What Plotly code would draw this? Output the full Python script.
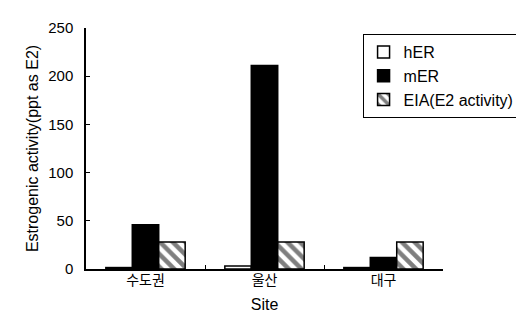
import plotly.graph_objects as go

sites = ["수도권", "울산", "대구"]
her = [1.5, 3, 1.5]
mer = [46, 211, 12]
eia = [28, 28, 28]

FONT = "Liberation Sans, Arial, Noto Sans CJK KR, sans-serif"

fig = go.Figure()
fig.add_trace(go.Bar(name="hER", x=sites, y=her, marker=dict(color="white", line=dict(color="black", width=1.5))))
fig.add_trace(go.Bar(name="mER", x=sites, y=mer, marker=dict(color="black", line=dict(color="black", width=1.5))))
fig.add_trace(go.Bar(name="EIA(E2 activity)", x=sites, y=eia,
                     marker=dict(color="white", line=dict(color="black", width=1.5),
                                 pattern=dict(shape="\\", fgcolor="black", bgcolor="white", size=9, solidity=0.5))))

fig.update_layout(
    width=524, height=320,
    margin=dict(l=78, r=87, t=20, b=59),
    paper_bgcolor="white", plot_bgcolor="white",
    barmode="group", bargap=1/3, bargroupgap=0,
    font=dict(family=FONT, size=15, color="black"),
    legend=dict(x=(514 - 78) / 359, y=0.975, xanchor="right", yanchor="top",
                bordercolor="black", borderwidth=1, bgcolor="white",
                font=dict(size=16), tracegroupgap=0, itemwidth=30),
    showlegend=True,
)
fig.update_xaxes(showline=True, linecolor="black", linewidth=1.5, ticks="inside", ticklen=4,
                 tickson="boundaries", tickcolor="black", tickfont=dict(size=14), ticklabelstandoff=-3,
                 title=dict(text="Site", font=dict(size=16), standoff=12), showgrid=False)
fig.update_yaxes(range=[0, 250], dtick=50, showline=True, linecolor="black", linewidth=1.5,
                 ticks="inside", ticklen=4, tickcolor="black", showgrid=False, zeroline=False,
                 tickfont=dict(size=15), ticklabelstandoff=8,
                 title=dict(text="Estrogenic activity(ppt as E2)", font=dict(size=16), standoff=6))

fig.write_html("out.html")
